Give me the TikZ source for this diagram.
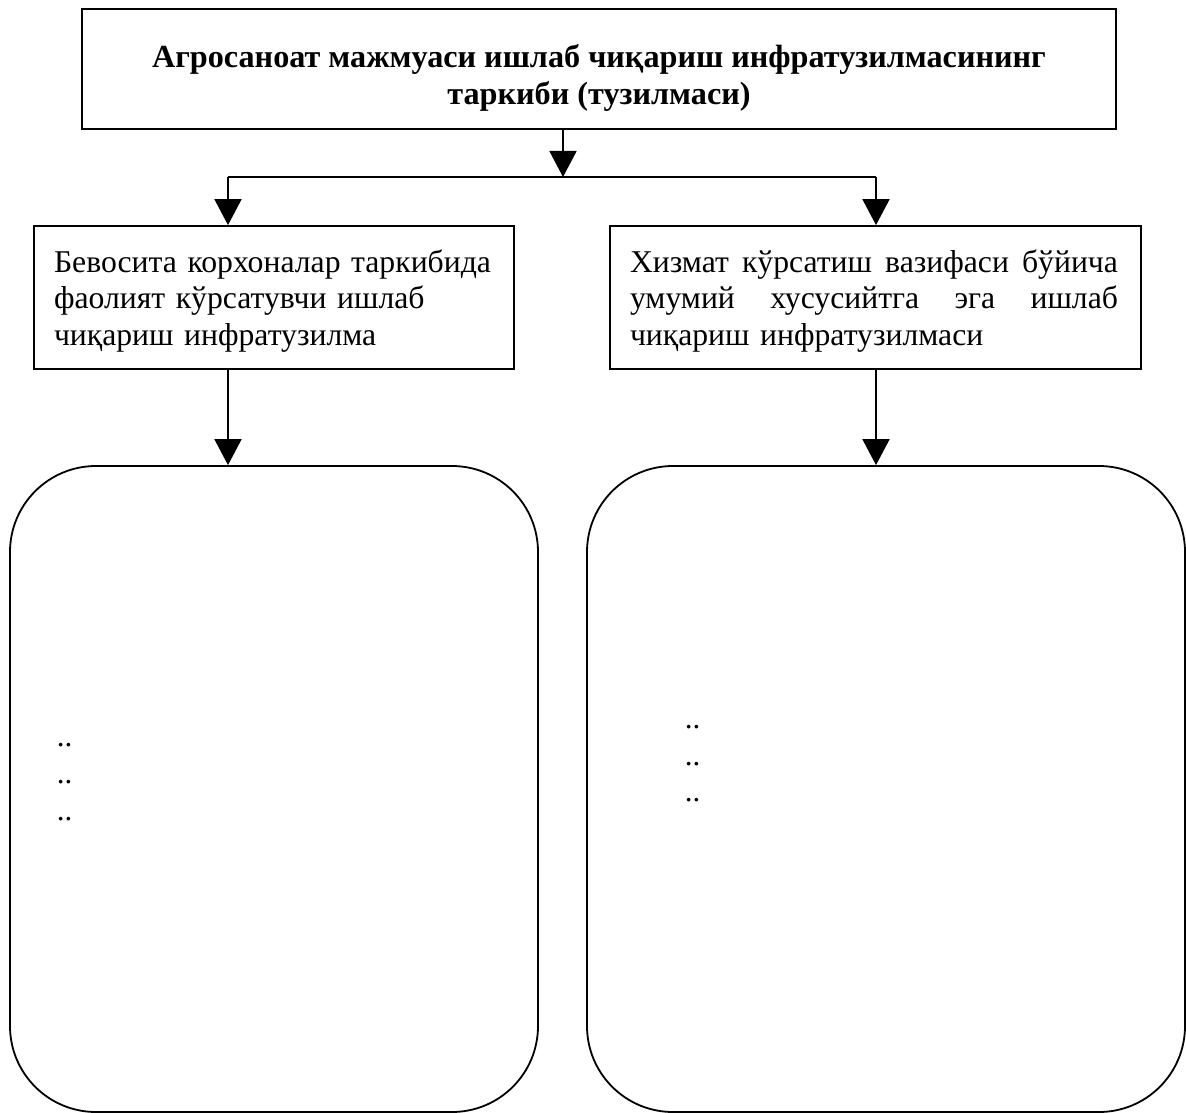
\documentclass[tikz,border=0pt]{standalone}
\usepackage{fontspec}
\setmainfont{Liberation Serif}
\usetikzlibrary{arrows.meta}
\newcommand{\jline}[1]{\leavevmode\hbox to 488pt{#1}}
\begin{document}
\begin{tikzpicture}[x=1pt,y=-1pt,
  line width=1.8pt,
  arr/.style={-{Triangle[length=26pt,width=27pt]}},
  box/.style={draw, rectangle, inner ysep=0pt},
  body/.style={font=\fontsize{31.7}{36.5}\selectfont},
  titlefont/.style={font=\bfseries\fontsize{32.2}{37}\selectfont},
  roundbox/.style={draw, rectangle, rounded corners=86pt, inner sep=0pt},
  dots/.style={font=\fontsize{31}{36.5}\selectfont, anchor=base west, inner sep=0pt}]
\useasboundingbox (0,0) rectangle (1186,1113);

\node[box, titlefont, minimum width=1034pt, minimum height=120pt, align=center]
  (top) at (599,69) {\rule{0pt}{40pt}Агросаноат мажмуаси ишлаб чиқариш инфратузилмасининг\\таркиби (тузилмаси)};

\node[box, body, minimum width=480pt, minimum height=143pt, inner xsep=20pt,
  text width=440pt, align=left]
  (b1) at (274,297.5) {\rule{0pt}{29pt}Бевосита корхоналар таркибида\\фаолият кўрсатувчи ишлаб\\чиқариш инфратузилма};

\node[box, body, minimum width=531pt, minimum height=143pt, inner xsep=20pt,
  text width=491pt, align=left]
  (b2) at (875.5,297.5) {\rule{0pt}{29pt}\jline{Хизмат\hfill кўрсатиш\hfill вазифаси\hfill бўйича}\\\jline{умумий\hfill хусусийтга\hfill эга\hfill ишлаб}\\чиқариш инфратузилмаси};

\node[roundbox, minimum width=528pt, minimum height=646pt] (r1) at (274,789) {};
\node[roundbox, minimum width=598pt, minimum height=646pt] (r2) at (886,789) {};

\node[dots] (d11) at (56,746) {..};
\node[dots] (d12) at (56,783) {..};
\node[dots] (d13) at (56,820) {..};
\node[dots] (d21) at (684,728) {..};
\node[dots] (d22) at (684,765) {..};
\node[dots] (d23) at (684,801) {..};

\coordinate (j) at (563,177);
\coordinate (jl) at (228,177);
\coordinate (jr) at (876,177);

\draw[arr] (top.south -| j) -- (j);
\draw (jl) -- (jr);
\draw[arr] (jl) -- (jl |- b1.north);
\draw[arr] (jr) -- (jr |- b2.north);
\draw[arr] (b1.south -| jl) -- (jl |- r1.north);
\draw[arr] (b2.south -| jr) -- (jr |- r2.north);
\end{tikzpicture}
\end{document}
